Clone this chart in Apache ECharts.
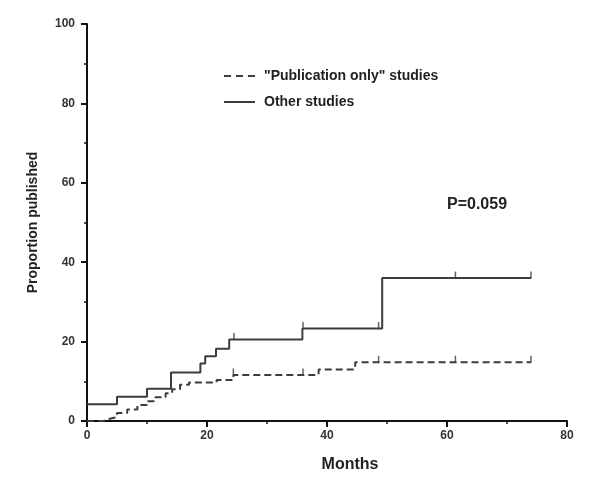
<!DOCTYPE html>
<html>
<head>
<meta charset="utf-8">
<script src="https://cdn.jsdelivr.net/npm/echarts@6/dist/echarts.min.js"></script>
<style>html,body{margin:0;padding:0;background:#fff}#c{width:590px;height:484px}</style>
</head>
<body>
<div id="c"></div>
<script>
// Kaplan-Meier style data: [month, proportion published]
var pubOnly = [[0,0],[2.8,0.5],[3.6,1],[5,2],[6.7,2.9],[8.4,4],[10,5],[11.4,6],[13.1,7],[14.2,8],[15.5,9.1],[17,9.7],[21.6,10.3],[24.4,11.6],[38.6,13],[44.7,14.8],[74,14.8]];
var otherStudies = [[0,4.2],[5,6.1],[10,8.1],[14,12.2],[18.9,14.5],[19.7,16.3],[21.5,18.2],[23.7,20.5],[35.9,23.3],[49.2,36],[74,36]];
var pubCensor = [[24.4,11.6],[36,11.6],[48.6,14.8],[61.4,14.8],[74,14.8]];
var otherCensor = [[24.5,20.5],[36,23.3],[48.6,23.3],[61.4,36],[74,36]];
var seriesNames = ['"Publication only" studies', 'Other studies'];
var pText = 'P=0.059';

var lineColor = '#3c3c3c';
var font = 'Liberation Sans, Arial, sans-serif';
var chart = echarts.init(document.getElementById('c'));
chart.setOption({
  animation: false,
  backgroundColor: '#fff',
  grid: {left: 87, right: 23, top: 24, bottom: 63, containLabel: false},
  legend: {
    orient: 'vertical', left: 219, top: 64, itemWidth: 31, itemHeight: 2, itemGap: 12,
    symbolKeepAspect: true,
    data: [
      {name: seriesNames[0], icon: 'path://M0,0h7v2h-7z M12,0h7v2h-7z M24,0h7v2h-7z', itemStyle: {color: lineColor}},
      {name: seriesNames[1], icon: 'path://M0,0h31v2h-31z', itemStyle: {color: lineColor}}
    ],
    textStyle: {fontFamily: font, fontWeight: 'bold', fontSize: 14, color: '#222', padding: [0,0,0,4]}
  },
  xAxis: {
    type: 'value', min: 0, max: 80, interval: 20,
    name: 'Months', nameLocation: 'middle', nameGap: 36,
    nameTextStyle: {fontFamily: font, fontWeight: 'bold', fontSize: 16, color: '#222', padding: [0,0,0,46]},
    axisLine: {lineStyle: {color: '#111', width: 2}},
    axisTick: {show: true, length: 6, lineStyle: {color: '#111', width: 2}},
    minorTick: {show: true, splitNumber: 2, length: 3, lineStyle: {color: '#111', width: 1.5}},
    axisLabel: {fontFamily: font, fontWeight: 'bold', fontSize: 12, color: '#333', margin: 9},
    splitLine: {show: false}
  },
  yAxis: {
    type: 'value', min: 0, max: 100, interval: 20,
    name: 'Proportion published', nameLocation: 'middle', nameGap: 47, nameRotate: 90,
    nameTextStyle: {fontFamily: font, fontWeight: 'bold', fontSize: 14, color: '#222'},
    axisLine: {show: true, lineStyle: {color: '#111', width: 2}},
    axisTick: {show: true, length: 6, lineStyle: {color: '#111', width: 2}},
    minorTick: {show: true, splitNumber: 2, length: 3, lineStyle: {color: '#111', width: 1.5}},
    axisLabel: {fontFamily: font, fontWeight: 'bold', fontSize: 12, color: '#333', margin: 12},
    splitLine: {show: false}
  },
  graphic: [{
    type: 'text', left: 447, top: 197,
    style: {text: pText, font: 'bold 16px ' + font, fill: '#222'}
  }],
  series: [
    {name: seriesNames[0], type: 'line', step: 'end', data: pubOnly, symbol: 'none',
     lineStyle: {color: lineColor, width: 2, type: [7, 4]}, itemStyle: {color: lineColor}, z: 3},
    {name: seriesNames[1], type: 'line', step: 'end', data: otherStudies, symbol: 'none',
     lineStyle: {color: lineColor, width: 2}, itemStyle: {color: lineColor}, z: 3},
    {type: 'scatter', data: pubCensor, symbol: 'rect', symbolSize: [1.5, 7], symbolOffset: [0, -3],
     itemStyle: {color: lineColor}, silent: true},
    {type: 'scatter', data: otherCensor, symbol: 'rect', symbolSize: [1.5, 7], symbolOffset: [0, -3],
     itemStyle: {color: lineColor}, silent: true}
  ]
});
</script>
</body>
</html>
